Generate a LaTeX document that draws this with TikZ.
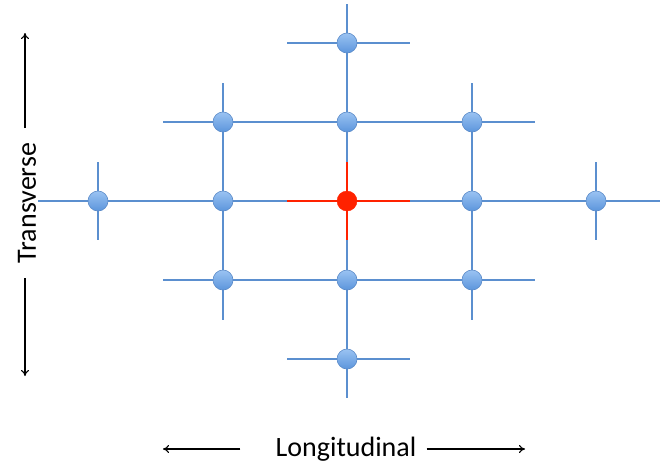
\documentclass[tikz,border=0pt]{standalone}
\usepackage{fontspec}
\setmainfont{Carlito}
\usetikzlibrary{backgrounds,arrows.meta}
\definecolor{gridblue}{HTML}{5B8FCF}
\definecolor{balltop}{HTML}{9AC3F2}
\definecolor{ballbot}{HTML}{5C95DC}
\definecolor{ballrim}{HTML}{5A8AC8}
\definecolor{hotred}{HTML}{FF2200}
\tikzset{
  site/.style={circle,minimum size=20pt,inner sep=0pt,draw=ballrim,line width=0.6pt,top color=balltop,bottom color=ballbot},
  hotsite/.style={circle,minimum size=20pt,inner sep=0pt,draw=hotred,fill=hotred},
  gridline/.style={draw=gridblue,line width=1.8pt},
  hotline/.style={draw=hotred,line width=1.8pt},
  axisarrow/.style={draw=black,line width=1.1pt,-{To[length=6pt,width=8pt]}},
  axislabel/.style={font=\fontsize{28}{30}\selectfont,inner sep=0pt}
}
\begin{document}
\begin{tikzpicture}[x=1pt,y=-1pt]
\useasboundingbox (0,0) rectangle (660,463);
% sites
\node[site] (t)   at (347,43) {};
\node[site] (a2)  at (223,122) {};
\node[site] (b2)  at (347,122) {};
\node[site] (c2)  at (472,122) {};
\node[site] (l)   at (98,201) {};
\node[site] (a3)  at (223,201) {};
\node[hotsite] (c) at (347,201) {};
\node[site] (c3)  at (472,201) {};
\node[site] (r)   at (596,201) {};
\node[site] (a4)  at (223,280) {};
\node[site] (b4)  at (347,280) {};
\node[site] (c4)  at (472,280) {};
\node[site] (b)   at (347,359) {};
% free line ends
\coordinate (tW) at (287,43);  \coordinate (tE) at (410,43);
\coordinate (r2W) at (163,122); \coordinate (r2E) at (535,122);
\coordinate (r3W) at (38,201);  \coordinate (r3E) at (660,201);
\coordinate (r4W) at (163,280); \coordinate (r4E) at (535,280);
\coordinate (bW) at (287,359);  \coordinate (bE) at (410,359);
\coordinate (lN) at (98,162);   \coordinate (lS) at (98,240);
\coordinate (rN) at (596,162);  \coordinate (rS) at (596,240);
\coordinate (aN) at (223,83);   \coordinate (aS) at (223,320);
\coordinate (cN) at (472,83);   \coordinate (cS) at (472,320);
\coordinate (mN) at (347,4);    \coordinate (mS) at (347,398);
\coordinate (hW) at (287,201);  \coordinate (hE) at (410,201);
\coordinate (hN) at (347,162);  \coordinate (hS) at (347,240);
\begin{scope}[on background layer]
\draw[gridline] (tW) -- (t.center) -- (tE);
\draw[gridline] (r2W) -- (a2.center) -- (b2.center) -- (c2.center) -- (r2E);
\draw[gridline] (r3W) -- (l.center) -- (a3.center) -- (c.center) -- (c3.center) -- (r.center) -- (r3E);
\draw[gridline] (r4W) -- (a4.center) -- (b4.center) -- (c4.center) -- (r4E);
\draw[gridline] (bW) -- (b.center) -- (bE);
\draw[gridline] (lN) -- (l.center) -- (lS);
\draw[gridline] (rN) -- (r.center) -- (rS);
\draw[gridline] (aN) -- (a2.center) -- (a3.center) -- (a4.center) -- (aS);
\draw[gridline] (cN) -- (c2.center) -- (c3.center) -- (c4.center) -- (cS);
\draw[gridline] (mN) -- (t.center) -- (b2.center) -- (c.center) -- (b4.center) -- (b.center) -- (mS);
\draw[hotline] (hW) -- (c.center) -- (hE);
\draw[hotline] (hN) -- (c.center) -- (hS);
\end{scope}
% axis labels
\node[axislabel] (lon) at (346,449) {Longitudinal};
\node[axislabel,rotate=90] (tra) at (27,203) {Transverse};
\coordinate (lonL) at (163,449); \coordinate (lonR) at (525,449);
\coordinate (traU) at (25,33);   \coordinate (traD) at (25,376);
\draw[axisarrow] ([xshift=-35pt]lon.west) -- (lonL);
\draw[axisarrow] ([xshift=10pt]lon.east) -- (lonR);
\draw[axisarrow] (25,128) -- (traU);
\draw[axisarrow] (25,278) -- (traD);
\end{tikzpicture}
\end{document}
